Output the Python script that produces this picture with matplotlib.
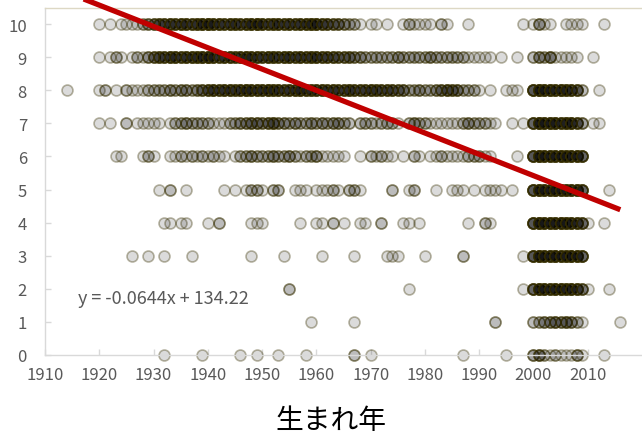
import numpy as np
import matplotlib
matplotlib.use("Agg")
import matplotlib.pyplot as plt

plt.rcParams['font.family'] = ['Noto Sans CJK JP', 'DejaVu Sans']

# (birth year, number of respondents) for each rating 0-10
rating_10 = [(1920, 1), (1922, 1), (1924, 1), (1925, 1), (1926, 1), (1927, 1), (1928, 2), (1929, 3), (1930, 4),
             (1931, 5), (1932, 5), (1933, 6), (1934, 5), (1935, 6), (1936, 6), (1937, 5), (1938, 6), (1939, 7), (1940, 8),
             (1941, 6), (1942, 6), (1943, 5), (1944, 6), (1945, 6), (1946, 5), (1947, 6), (1948, 7), (1949, 8), (1950, 6),
             (1951, 5), (1952, 6), (1953, 6), (1954, 5), (1955, 6), (1956, 5), (1957, 6), (1958, 6), (1959, 7), (1960, 7),
             (1961, 5), (1962, 5), (1963, 4), (1964, 4), (1965, 3), (1966, 2), (1967, 2), (1968, 1), (1970, 1), (1971, 1),
             (1973, 1), (1976, 1), (1977, 2), (1978, 1), (1979, 1), (1980, 1), (1981, 1), (1983, 2), (1984, 1), (1988, 1),
             (1998, 1), (2000, 1), (2001, 3), (2002, 1), (2003, 1), (2006, 1), (2007, 1), (2008, 1), (2009, 1), (2013, 1)]
rating_9 = [(1920, 1), (1922, 1), (1923, 2), (1924, 1), (1926, 1), (1927, 2), (1928, 1), (1929, 3), (1930, 4),
            (1931, 5), (1932, 5), (1933, 6), (1934, 6), (1935, 5), (1936, 6), (1937, 6), (1938, 6), (1939, 7), (1940, 8),
            (1941, 6), (1942, 5), (1943, 6), (1944, 6), (1945, 5), (1946, 6), (1947, 7), (1948, 6), (1949, 6), (1950, 5),
            (1951, 6), (1952, 6), (1953, 5), (1954, 6), (1955, 6), (1956, 5), (1957, 6), (1958, 5), (1959, 6), (1960, 6),
            (1961, 5), (1962, 5), (1963, 5), (1964, 4), (1965, 4), (1966, 4), (1967, 3), (1968, 3), (1969, 2), (1970, 2),
            (1971, 2), (1972, 2), (1973, 2), (1974, 2), (1975, 3), (1976, 2), (1977, 2), (1978, 2), (1979, 2), (1980, 2),
            (1981, 3), (1982, 2), (1983, 2), (1984, 2), (1985, 2), (1986, 2), (1987, 2), (1988, 1), (1989, 1), (1990, 1),
            (1991, 1), (1992, 1), (1994, 1), (1997, 1), (2000, 2), (2001, 3), (2002, 2), (2003, 4), (2004, 1), (2005, 1),
            (2006, 1), (2007, 1), (2008, 1), (2011, 1)]
rating_8 = [(1914, 1), (1920, 1), (1921, 2), (1923, 1), (1925, 2), (1926, 1), (1927, 1), (1928, 1), (1929, 2), (1930, 2),
            (1931, 2), (1932, 2), (1933, 3), (1934, 2), (1935, 3), (1936, 3), (1937, 2), (1938, 3), (1939, 4), (1940, 5),
            (1941, 6), (1942, 5), (1943, 6), (1944, 6), (1945, 5), (1946, 6), (1947, 7), (1948, 6), (1949, 6), (1950, 6),
            (1951, 7), (1952, 6), (1953, 6), (1954, 5), (1955, 6), (1956, 6), (1957, 7), (1958, 6), (1959, 6), (1960, 6),
            (1961, 6), (1962, 5), (1963, 6), (1964, 5), (1965, 5), (1966, 6), (1967, 5), (1968, 5), (1969, 5), (1970, 6),
            (1971, 5), (1972, 5), (1973, 5), (1974, 5), (1975, 4), (1976, 4), (1977, 2), (1978, 2), (1979, 3), (1980, 2),
            (1981, 2), (1982, 3), (1983, 4), (1984, 5), (1985, 4), (1986, 4), (1987, 2), (1988, 2), (1989, 2), (1990, 1),
            (1992, 1), (1995, 1), (1996, 1), (1997, 1), (2000, 7), (2001, 8), (2002, 7), (2003, 7), (2004, 6), (2005, 7),
            (2006, 6), (2007, 6), (2008, 5), (2009, 2), (2012, 1)]
rating_7 = [(1920, 1), (1922, 1), (1925, 2), (1927, 1), (1928, 1), (1929, 1), (1930, 1), (1931, 1), (1933, 1), (1934, 2),
            (1935, 2), (1936, 3), (1937, 2), (1938, 2), (1939, 2), (1940, 2), (1941, 1), (1942, 1), (1943, 1), (1944, 2),
            (1945, 2), (1946, 3), (1947, 3), (1948, 4), (1949, 4), (1950, 3), (1951, 4), (1952, 5), (1953, 3), (1954, 3),
            (1955, 2), (1956, 3), (1957, 2), (1958, 2), (1959, 3), (1960, 2), (1961, 3), (1962, 2), (1963, 3), (1964, 3),
            (1965, 2), (1966, 2), (1968, 2), (1969, 2), (1970, 2), (1971, 1), (1972, 2), (1973, 2), (1974, 2), (1975, 1),
            (1977, 2), (1978, 3), (1979, 2), (1980, 2), (1981, 1), (1982, 1), (1983, 1), (1984, 1), (1985, 1), (1986, 1),
            (1987, 2), (1988, 3), (1989, 2), (1990, 2), (1991, 2), (1992, 1), (1993, 1), (1996, 1), (1998, 1),
            (2000, 6), (2001, 8), (2002, 7), (2003, 7), (2004, 7), (2005, 6), (2006, 7), (2007, 7), (2008, 5), (2009, 3),
            (2011, 1), (2012, 1)]
rating_6 = [(1923, 1), (1924, 1), (1928, 1), (1929, 2), (1930, 1), (1933, 1), (1934, 1), (1935, 2), (1936, 1), (1937, 2),
            (1938, 1), (1939, 2), (1940, 1), (1941, 2), (1942, 1), (1943, 1), (1945, 1), (1946, 2), (1947, 2), (1948, 3),
            (1949, 2), (1950, 2), (1951, 2), (1952, 3), (1953, 2), (1954, 2), (1955, 3), (1956, 2), (1957, 1), (1958, 2),
            (1959, 2), (1960, 3), (1961, 1), (1962, 1), (1963, 1), (1964, 1), (1965, 1), (1968, 1), (1970, 2), (1971, 1),
            (1972, 2), (1973, 1), (1974, 1), (1976, 1), (1978, 2), (1979, 1), (1981, 1), (1982, 1), (1983, 2), (1984, 1),
            (1985, 1), (1986, 1), (1987, 1), (1988, 2), (1989, 2), (1990, 2), (1991, 1), (1992, 1), (1997, 1),
            (2000, 7), (2001, 8), (2002, 7), (2003, 7), (2004, 7), (2005, 8), (2006, 7), (2007, 7), (2008, 7), (2009, 6)]
rating_5 = [(1931, 1), (1933, 2), (1936, 1), (1943, 1), (1945, 1), (1947, 1), (1948, 2), (1949, 2), (1950, 1), (1952, 2),
            (1953, 2), (1956, 1), (1957, 1), (1958, 1), (1960, 1), (1961, 1), (1962, 1), (1963, 2), (1964, 1), (1966, 2),
            (1967, 2), (1968, 1), (1974, 2), (1977, 1), (1978, 2), (1982, 1), (1985, 1), (1986, 1), (1987, 1), (1989, 1),
            (1991, 1), (1992, 1), (1993, 1), (1994, 1), (1996, 1), (2000, 7), (2001, 8), (2002, 7), (2003, 7), (2004, 8),
            (2005, 7), (2006, 7), (2007, 7), (2008, 7), (2009, 6), (2014, 1)]
rating_4 = [(1932, 1), (1933, 1), (1935, 1), (1936, 1), (1940, 1), (1942, 2), (1948, 1), (1949, 1), (1950, 1), (1957, 1),
            (1960, 1), (1961, 1), (1963, 2), (1965, 1), (1968, 1), (1969, 1), (1972, 2), (1976, 1), (1977, 1), (1979, 1),
            (1988, 1), (1991, 2), (1992, 1), (2000, 7), (2001, 8), (2002, 7), (2003, 7), (2004, 7), (2005, 8), (2006, 7),
            (2007, 7), (2008, 6), (2009, 5), (2010, 1), (2013, 1)]
rating_3 = [(1926, 1), (1929, 1), (1932, 1), (1937, 1), (1948, 1), (1954, 1), (1961, 1), (1967, 1), (1973, 1), (1974, 1),
            (1975, 1), (1980, 1), (1987, 2), (1998, 1), (2000, 7), (2001, 8), (2002, 7), (2003, 7), (2004, 8), (2005, 7),
            (2006, 7), (2007, 8), (2008, 7), (2009, 6)]
rating_2 = [(1955, 2), (1977, 1), (1998, 1), (2000, 6), (2001, 7), (2002, 7), (2003, 6), (2004, 7), (2005, 7), (2006, 6),
            (2007, 7), (2008, 6), (2009, 4), (2010, 1), (2014, 1)]
rating_1 = [(1959, 1), (1967, 1), (1993, 2), (2000, 2), (2001, 2), (2002, 3), (2003, 3), (2004, 4), (2005, 3), (2006, 4),
            (2007, 3), (2008, 2), (2009, 1), (2016, 1)]
rating_0 = [(1932, 1), (1939, 1), (1946, 1), (1949, 1), (1953, 1), (1958, 1), (1967, 2), (1970, 1), (1987, 1), (1995, 1),
            (2000, 3), (2001, 4), (2002, 2), (2003, 1), (2004, 2), (2005, 1), (2006, 1), (2007, 1), (2008, 3), (2009, 1),
            (2013, 1)]

# Linear trendline coefficients
SLOPE = -0.0644
INTERCEPT = 134.22

x_ticks = [1910, 1920, 1930, 1940, 1950, 1960, 1970, 1980, 1990, 2000, 2010]
y_ticks = [0, 1, 2, 3, 4, 5, 6, 7, 8, 9, 10]
x_label = "生まれ年"

rows = [(0, rating_0), (1, rating_1), (2, rating_2), (3, rating_3), (4, rating_4), (5, rating_5),
        (6, rating_6), (7, rating_7), (8, rating_8), (9, rating_9), (10, rating_10)]

xs, ys = [], []
for rating, pairs in rows:
    for year, n in pairs:
        xs.extend([year] * n)
        ys.extend([rating] * n)
xs = np.array(xs, dtype=float)
ys = np.array(ys, dtype=float)

fig = plt.figure(figsize=(6.42, 4.35), dpi=100)
ax = fig.add_axes([45 / 642, 1 - 356 / 435, (642 - 45) / 642, (356 - 8.5) / 435])
ax.set_xlim(1910, 2020)
ax.set_ylim(0, 10.5)

# translucent markers: overlapping respondents build up to dark
ax.scatter(xs, ys, s=62, facecolors=(0, 0, 0, 0.14), edgecolors=(0.22, 0.19, 0.0, 0.36),
           linewidths=1.2, clip_on=False, zorder=2)

x_fit = np.array([xs.min(), xs.max()])
ax.plot(x_fit, SLOPE * x_fit + INTERCEPT, color='#c00000', lw=3.8,
        solid_capstyle='butt', clip_on=False, zorder=3)

ax.text(0.0553, 0.164, f"y = {SLOPE}x + {INTERCEPT}", transform=ax.transAxes,
        fontsize=13, color='#595959', ha='left', va='center')

ax.set_xticks(x_ticks)
ax.set_xticklabels([str(v) for v in x_ticks])
ax.set_yticks(y_ticks)
ax.set_yticklabels([str(v) for v in y_ticks])
ax.tick_params(direction='in', length=4, width=1, color='#d9d9d9',
               labelcolor='#595959', labelsize=12)
ax.tick_params(axis='y', pad=13)
ax.tick_params(axis='x', pad=8)

ax.spines['right'].set_visible(False)
ax.spines['top'].set_color('#ddd8c4')
ax.spines['left'].set_color('#d9d9d9')
ax.spines['bottom'].set_color('#d9d9d9')
for sp in ax.spines.values():
    sp.set_linewidth(1.0)

fig.text(331 / 642, 1 - 421 / 435, x_label, ha='center', va='center', fontsize=20, color='black')

fig.savefig('out.png', dpi=100)
